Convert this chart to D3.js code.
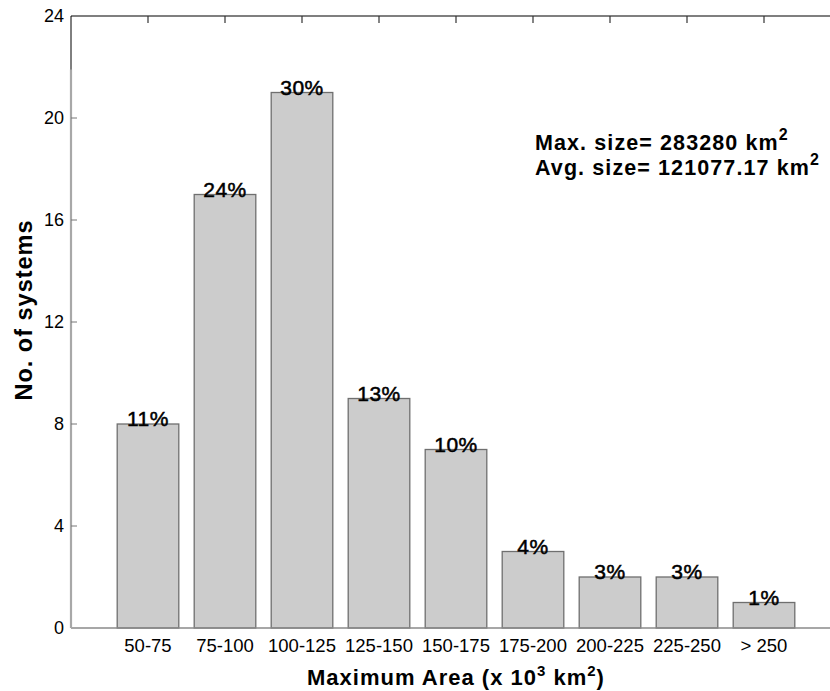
<!DOCTYPE html>
<html>
<head>
<meta charset="utf-8">
<script src="https://cdn.jsdelivr.net/npm/d3@7"></script>
<style>
  body { margin: 0; background: #fff; }
  text { font-family: "Liberation Sans", Arial, Helvetica, sans-serif; fill: #000; }
</style>
</head>
<body>
<script>
//Data
var categories = ["50-75", "75-100", "100-125", "125-150", "150-175", "175-200", "200-225", "225-250", "> 250"];
var counts = [8, 17, 21, 9, 7, 3, 2, 2, 1];
var percents = ["11%", "24%", "30%", "13%", "10%", "4%", "3%", "3%", "1%"];
var yTicks = [0, 4, 8, 12, 16, 20, 24];
var notes = [["Max. size= 283280 km", "2"], ["Avg. size= 121077.17 km", "2"]];

//Define size
var width = 830, height = 691;

var svg = d3.select("body")
    .append("svg")
    .attr("width", width)
    .attr("height", height);

//Scales: category i sits at position i+1, axis runs 0..10
var x = d3.scaleLinear().domain([0, 10]).range([71, 841]);
var y = d3.scaleLinear().domain([0, 24]).range([628, 16]);
var barW = x(0.8) - x(0);

//Bars
svg.append("g")
    .selectAll("rect")
    .data(counts)
    .enter().append("rect")
    .attr("x", function(d, i) { return x(i + 1) - barW / 2; })
    .attr("y", function(d) { return y(d); })
    .attr("width", barW)
    .attr("height", function(d) { return y(0) - y(d); })
    .attr("fill", "#cccccc")
    .attr("stroke", "#6f6f6f")
    .attr("stroke-width", 1.3);

//Percent labels
svg.append("g")
    .selectAll("text")
    .data(counts)
    .enter().append("text")
    .attr("x", function(d, i) { return x(i + 1); })
    .attr("y", function(d) { return y(d) + 2; })
    .attr("text-anchor", "middle")
    .style("font-size", "21px")
    .style("letter-spacing", "0.5px")
    .style("stroke", "#000")
    .style("stroke-width", 0.5)
    .text(function(d, i) { return percents[i]; });

//Frame: top line and bottom line
svg.append("line")
    .attr("x1", x(0)).attr("x2", width)
    .attr("y1", y(24)).attr("y2", y(24))
    .attr("stroke", "#000").attr("stroke-width", 1.2);
svg.append("line")
    .attr("x1", x(0)).attr("x2", width)
    .attr("y1", y(0)).attr("y2", y(0))
    .attr("stroke", "#8a8a8a").attr("stroke-width", 1.5);

//Left spine: black at top, grey further down
svg.append("line")
    .attr("x1", x(0)).attr("x2", x(0))
    .attr("y1", y(24)).attr("y2", y(0))
    .attr("stroke", "#000").attr("stroke-width", 1);
svg.append("line")
    .attr("x1", x(0)).attr("x2", x(0))
    .attr("y1", y(21.9)).attr("y2", y(0))
    .attr("stroke", "#a8a8a8").attr("stroke-width", 2.2);

//Top tick marks at categories
svg.append("g")
    .selectAll("line")
    .data(categories)
    .enter().append("line")
    .attr("x1", function(d, i) { return x(i + 1); })
    .attr("x2", function(d, i) { return x(i + 1); })
    .attr("y1", y(24))
    .attr("y2", y(24) + 7)
    .attr("stroke", "#333")
    .attr("stroke-width", 1.2);

//Y ticks
var yg = svg.append("g");
yg.selectAll("line")
    .data(yTicks.slice(1, -1))
    .enter().append("line")
    .attr("x1", x(0)).attr("x2", x(0) + 6)
    .attr("y1", function(d) { return y(d); })
    .attr("y2", function(d) { return y(d); })
    .attr("stroke", "#777");
yg.selectAll("text")
    .data(yTicks)
    .enter().append("text")
    .attr("x", x(0) - 7)
    .attr("y", function(d) { return y(d); })
    .attr("dy", "0.35em")
    .attr("text-anchor", "end")
    .style("font-size", "18px")
    .text(function(d) { return d; });

//X tick labels
svg.append("g")
    .selectAll("text")
    .data(categories)
    .enter().append("text")
    .attr("x", function(d, i) { return x(i + 1); })
    .attr("y", 652)
    .attr("text-anchor", "middle")
    .style("font-size", "18.5px")
    .text(function(d) { return d; });

//Axis titles
var xt = svg.append("text")
    .attr("x", x(5))
    .attr("y", 685)
    .attr("text-anchor", "middle")
    .style("font-size", "22px")
    .style("letter-spacing", "1px")
    .style("font-weight", "bold");
xt.append("tspan").text("Maximum Area (x 10");
xt.append("tspan").attr("dy", -9).style("font-size", "15px").text("3");
xt.append("tspan").attr("dy", 9).text(" km");
xt.append("tspan").attr("dy", -9).style("font-size", "15px").text("2");
xt.append("tspan").attr("dy", 9).text(")");

svg.append("text")
    .attr("transform", "translate(32," + 310 + ") rotate(-90)")
    .attr("text-anchor", "middle")
    .style("font-size", "23.5px")
    .style("letter-spacing", "1px")
    .style("font-weight", "bold")
    .text("No. of systems");

//Annotation
svg.append("g")
    .selectAll("text")
    .data(notes)
    .enter().append("text")
    .attr("x", 535)
    .attr("y", function(d, i) { return 150 + i * 25; })
    .style("font-size", "21.5px")
    .style("letter-spacing", "1.1px")
    .style("font-weight", "bold")
    .each(function(d) {
      var t = d3.select(this);
      t.append("tspan").text(d[0]);
      t.append("tspan").attr("dy", -10).style("font-size", "16px").text(d[1]);
    });
</script>
</body>
</html>
